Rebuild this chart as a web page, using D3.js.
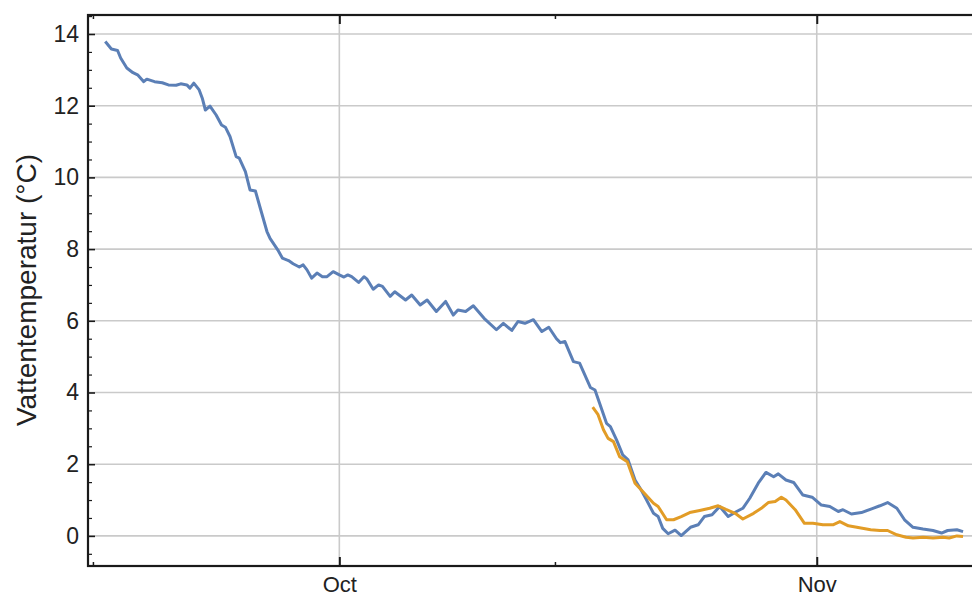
<!DOCTYPE html>
<html>
<head>
<meta charset="utf-8">
<script src="https://cdn.jsdelivr.net/npm/d3@7"></script>
<style>
  html, body { margin: 0; padding: 0; background: #fff; }
  svg { display: block; font-family: "Liberation Sans", Arial, sans-serif; }
</style>
</head>
<body>
<svg id="chart" width="972" height="597"></svg>
<script>
// Day offsets are measured from 1 October; temperatures in °C.
const baseDate = new Date(2020, 9, 1);

const blueDays = [
  -15.2, -14.8, -14.4, -14.2, -13.8, -13.4, -13.1, -12.7, -12.5, -12.0,
  -11.5, -11.1, -10.6, -10.3, -9.9, -9.7, -9.45, -9.1, -8.9, -8.7,
  -8.4, -8.0, -7.65, -7.4, -7.1, -6.7, -6.5, -6.1, -5.8, -5.45,
  -5.1, -4.7, -4.5, -4.0, -3.7, -3.3, -3.0, -2.6, -2.35, -2.1,
  -1.8, -1.45, -1.1, -0.8, -0.4, 0.0, 0.3, 0.55, 0.8, 1.25,
  1.6, 1.8, 2.2, 2.55, 2.8, 3.3, 3.6, 4.3, 4.7, 5.25,
  5.7, 6.3, 6.9, 7.4, 7.7, 8.2, 8.7, 9.4, 10.2, 10.65,
  11.2, 11.6, 12.05, 12.6, 13.15, 13.6, 14.1, 14.35, 14.65, 15.2,
  15.6, 16.3, 16.6, 16.9, 17.35, 17.6, 18.0, 18.4, 18.75, 19.2,
  19.6, 19.95, 20.4, 20.7, 21.0, 21.35, 21.8, 22.2, 22.8, 23.3,
  23.7, 24.2, 24.7, 25.25, 25.8, 26.2, 26.65, 27.2, 27.7, 28.2,
  28.5, 29.0, 29.5, 30.1, 30.7, 31.3, 31.85, 32.4, 32.7, 33.25,
  33.9, 34.65, 35.1, 35.6, 36.2, 36.7, 37.25, 37.9, 38.55, 39.1,
  39.5, 40.1, 40.5
];
const blueTemps = [
  13.79, 13.58, 13.54, 13.33, 13.05, 12.92, 12.86, 12.67, 12.74, 12.67,
  12.64, 12.58, 12.57, 12.61, 12.58, 12.49, 12.63, 12.44, 12.21, 11.88,
  11.99, 11.74, 11.46, 11.40, 11.14, 10.58, 10.54, 10.16, 9.65, 9.62,
  9.09, 8.49, 8.30, 7.98, 7.75, 7.68, 7.59, 7.50, 7.56, 7.42,
  7.19, 7.33, 7.23, 7.23, 7.37, 7.28, 7.22, 7.28, 7.23, 7.07,
  7.23, 7.16, 6.88, 7.00, 6.96, 6.68, 6.81, 6.58, 6.72, 6.44,
  6.58, 6.26, 6.54, 6.16, 6.30, 6.26, 6.42, 6.07, 5.75, 5.93,
  5.73, 5.98, 5.93, 6.03, 5.70, 5.82, 5.50, 5.39, 5.42, 4.86,
  4.82, 4.14, 4.07, 3.70, 3.14, 3.05, 2.68, 2.26, 2.12, 1.56,
  1.28, 1.00, 0.63, 0.54, 0.21, 0.06, 0.16, 0.01, 0.24, 0.31,
  0.54, 0.59, 0.82, 0.54, 0.68, 0.77, 1.05, 1.47, 1.77, 1.65,
  1.73, 1.56, 1.49, 1.14, 1.08, 0.86, 0.82, 0.68, 0.73, 0.61,
  0.65, 0.77, 0.84, 0.93, 0.77, 0.45, 0.24, 0.19, 0.15, 0.08,
  0.15, 0.17, 0.12
];

const orangeDays = [
  16.45, 16.8, 17.15, 17.45, 17.8, 18.2, 18.7, 19.2, 19.7, 20.4,
  20.7, 21.25, 21.7, 22.2, 22.75, 23.4, 24.05, 24.6, 25.1, 25.7,
  26.2, 26.9, 27.4, 27.85, 28.3, 28.7, 29.0, 29.6, 30.2, 30.75,
  31.4, 32.05, 32.5, 33.05, 33.6, 34.5, 35.1, 35.6, 36.2, 36.8,
  37.25, 37.9, 38.55, 39.2, 39.6, 40.1, 40.5
];
const orangeTemps = [
  3.59, 3.38, 2.96, 2.72, 2.63, 2.21, 2.07, 1.47, 1.24, 0.91,
  0.82, 0.45, 0.45, 0.54, 0.65, 0.71, 0.77, 0.84, 0.74, 0.63,
  0.47, 0.63, 0.77, 0.93, 0.96, 1.08, 1.00, 0.73, 0.35, 0.35,
  0.31, 0.31, 0.40, 0.28, 0.24, 0.17, 0.15, 0.15, 0.03, -0.04,
  -0.06, -0.04, -0.06, -0.04, -0.06, 0.00, -0.02
];

const yTickValues = [0, 2, 4, 6, 8, 10, 12, 14];
const monthTickLabels = ["Oct", "Nov"];
const yAxisTitle = "Vattentemperatur (°C)";

const seriesColors = ["#5b7fb6", "#e29c26"];

const dayMs = 864e5;
const toDate = d => new Date(baseDate.getTime() + d * dayMs);

const blueSeries = blueDays.map((d, i) => ({ t: toDate(d), v: blueTemps[i] }));
const orangeSeries = orangeDays.map((d, i) => ({ t: toDate(d), v: orangeTemps[i] }));

const svg = d3.select("#chart");
const plotLeft = 88, plotRight = 980, plotTop = 15, plotBottom = 566;

const x = d3.scaleTime()
  .domain([toDate(-16.32), toDate(41.6)])
  .range([plotLeft, plotRight]);
const y = d3.scaleLinear()
  .domain([-0.84, 14.53])
  .range([plotBottom, plotTop]);

const monthDates = [new Date(2020, 9, 1), new Date(2020, 10, 1)];
const midDates = [new Date(2020, 8, 15), new Date(2020, 9, 15)];
const minorY = d3.range(-0.5, 14.51, 0.5).filter(v => !yTickValues.includes(v));

// grid
const grid = svg.append("g").attr("stroke", "#cacaca").attr("stroke-width", 1.6);
grid.selectAll("line.h").data(yTickValues).join("line")
  .attr("x1", plotLeft).attr("x2", plotRight)
  .attr("y1", d => y(d)).attr("y2", d => y(d));
grid.selectAll("line.v").data(monthDates).join("line")
  .attr("x1", d => x(d)).attr("x2", d => x(d))
  .attr("y1", plotTop).attr("y2", plotBottom);

// series
const line = d3.line().x(d => x(d.t)).y(d => y(d.v));
svg.append("path").datum(blueSeries)
  .attr("fill", "none").attr("stroke", seriesColors[0])
  .attr("stroke-width", 3).attr("stroke-linejoin", "round")
  .attr("d", line);
svg.append("path").datum(orangeSeries)
  .attr("fill", "none").attr("stroke", seriesColors[1])
  .attr("stroke-width", 3).attr("stroke-linejoin", "round")
  .attr("d", line);

// frame
svg.append("rect")
  .attr("x", plotLeft).attr("y", plotTop)
  .attr("width", plotRight - plotLeft).attr("height", plotBottom - plotTop)
  .attr("fill", "none").attr("stroke", "#1a1a1a").attr("stroke-width", 2.2);

// bottom axis (ticks pointing into the plot)
const xAxisBottom = d3.axisBottom(x).tickValues(monthDates)
  .tickFormat((d, i) => monthTickLabels[i]).tickSize(-9).tickPadding(10);
const gxb = svg.append("g").attr("transform", `translate(0,${plotBottom})`).call(xAxisBottom);
gxb.select(".domain").remove();
gxb.selectAll(".tick line").attr("stroke", "#1a1a1a").attr("stroke-width", 2);
gxb.selectAll("text").attr("font-size", 22).attr("fill", "#222");

const xMinorBottom = d3.axisBottom(x).tickValues(midDates).tickSize(-4).tickFormat("");
const gxmb = svg.append("g").attr("transform", `translate(0,${plotBottom})`).call(xMinorBottom);
gxmb.select(".domain").remove();
gxmb.selectAll(".tick line").attr("stroke", "#1a1a1a").attr("stroke-width", 1.5);

// top axis
const xAxisTop = d3.axisTop(x).tickValues(monthDates).tickSize(-9).tickFormat("");
const gxt = svg.append("g").attr("transform", `translate(0,${plotTop})`).call(xAxisTop);
gxt.select(".domain").remove();
gxt.selectAll(".tick line").attr("stroke", "#1a1a1a").attr("stroke-width", 2);
const xMinorTop = d3.axisTop(x).tickValues(midDates).tickSize(-4).tickFormat("");
const gxmt = svg.append("g").attr("transform", `translate(0,${plotTop})`).call(xMinorTop);
gxmt.select(".domain").remove();
gxmt.selectAll(".tick line").attr("stroke", "#1a1a1a").attr("stroke-width", 1.5);

// left axis
const yAxis = d3.axisLeft(y).tickValues(yTickValues).tickSize(-7).tickPadding(9)
  .tickFormat(d3.format("d"));
const gy = svg.append("g").attr("transform", `translate(${plotLeft},0)`).call(yAxis);
gy.select(".domain").remove();
gy.selectAll(".tick line").attr("stroke", "#1a1a1a").attr("stroke-width", 1.6);
gy.selectAll("text").attr("font-size", 23).attr("fill", "#222");

const yMinor = d3.axisLeft(y).tickValues(minorY).tickSize(-4).tickFormat("");
const gym = svg.append("g").attr("transform", `translate(${plotLeft},0)`).call(yMinor);
gym.select(".domain").remove();
gym.selectAll(".tick line").attr("stroke", "#1a1a1a").attr("stroke-width", 1.2);

// axis title
svg.append("text")
  .attr("transform", `translate(36,290) rotate(-90)`)
  .attr("text-anchor", "middle")
  .attr("font-size", 28)
  .attr("fill", "#222")
  .text(yAxisTitle);
</script>
</body>
</html>
